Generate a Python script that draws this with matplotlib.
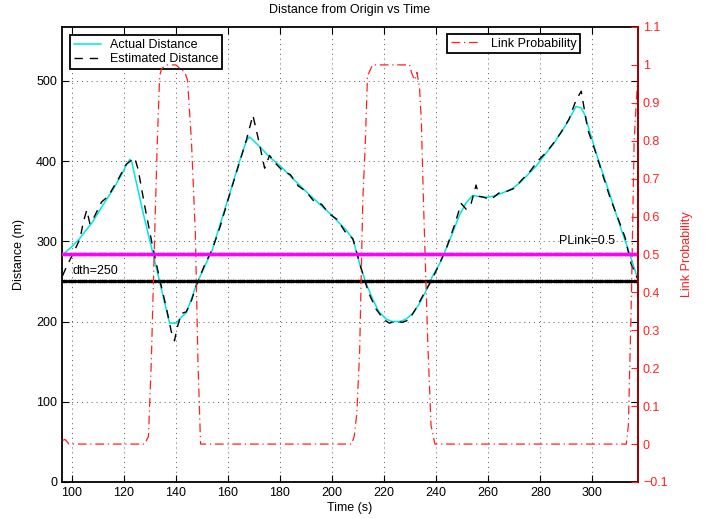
import numpy as np
import matplotlib
matplotlib.use("Agg")
import matplotlib.pyplot as plt

plt.rcParams['font.family'] = ['Liberation Sans', 'DejaVu Sans']
plt.rcParams['font.size'] = 9

# ---- data ----
t_act = [96.5, 100, 103, 108, 112, 116, 119, 121, 122.3, 123, 127.4, 131.2, 135, 137.6,
         140.2, 142, 144, 146, 148, 151, 154, 157, 160, 163, 165, 167, 168.1, 169, 172.2,
         176, 180, 185, 190, 195, 200, 203, 205.4, 208, 210.6, 213, 215.6, 218, 220.8,
         223, 226, 228.5, 231, 233.5, 236.2, 238.5, 241.3, 245, 249, 251.5, 254, 256,
         257.9, 260, 263, 266, 269.4, 272.5, 275.8, 278.5, 281, 283.5, 286, 290, 293.7,
         295.7, 297, 301.4, 306.5, 310, 314.2, 317.4]
d_act = [283, 293, 303, 324, 345, 365, 382, 395, 402, 400, 336, 285, 233, 198,
         198, 205, 211, 228, 247, 268, 289, 321, 352, 384, 405, 424, 430, 428, 418,
         405, 394, 378, 362, 347, 332, 322, 314, 303, 272, 248, 228, 212, 203,
         200, 200, 203, 210, 222, 239, 256, 272, 300, 333, 348, 357, 356,
         355, 355, 357, 361, 366, 374, 385, 394, 405, 415, 426, 446, 468,
         466, 458, 410, 360, 325, 285, 253]

t_est = [96.5, 98, 100.6, 103.2, 104.5, 105.8, 107, 108.3, 111.5, 114, 118, 121, 124.2,
         125.5, 128, 131, 134, 136.5, 138.3, 139.5, 140.5, 142.1, 144, 146, 148, 151, 154,
         157, 160, 163, 165, 167, 169.6, 172, 174.1, 176, 178, 181, 184, 187, 190, 193,
         196, 199, 202, 205, 208, 211, 214, 217, 220, 222, 224, 227, 229.5, 232, 235,
         238, 241, 244, 247, 249.6, 251.5, 253.4, 255.3, 256.5, 258, 261, 264, 267, 270,
         273, 276, 279, 282, 285, 288, 291, 293.7, 295.7, 298.2, 301, 304, 307, 310,
         312.5, 314.8, 317.4]
d_est = [257, 268, 285, 303, 324, 339, 322, 328, 349, 356, 378, 396, 404,
         390, 345, 295, 250, 215, 187, 176, 192, 210, 212, 226, 246, 270, 290,
         318, 351, 383, 404, 425, 457, 423, 391, 407, 398, 388, 383, 369, 362, 350,
         346, 334, 327, 312, 303, 268, 236, 215, 202, 198, 200, 199, 202, 215, 233,
         250, 270, 292, 320, 347, 340, 347, 370, 356, 355, 352, 360, 362, 366,
         377, 387, 400, 410, 422, 436, 452, 476, 487, 439, 413, 382, 352, 327,
         305, 272, 253]

t_p = [96.5, 97.5, 99, 110, 120, 128, 129.5, 130.6, 131.9, 132.9, 133.8, 134.5, 136.5,
       140, 143.5, 144.5, 146, 147.5, 148.5, 149.5, 160, 180, 200, 207.5, 208.5, 209.5,
       210.6, 211.8, 212.8, 213.6, 215.5, 220, 225, 229.8, 230.5, 231.7, 232.6, 233.6,
       234.3, 235.1, 236.8, 238, 239.5, 260, 280, 300, 313, 313.8, 315, 316, 317.4]
p_link = [0.01, 0.012, 0, 0, 0, 0, 0.02, 0.219, 0.557, 0.8, 0.97, 0.99, 1.0,
          1.0, 0.98, 0.96, 0.8, 0.557, 0.219, 0.0, 0, 0, 0, 0, 0.02, 0.08,
          0.245, 0.64, 0.8, 0.97, 1.0, 1.0, 1.0, 1.0, 0.98, 0.96, 0.98, 0.94,
          0.85, 0.64, 0.26, 0.05, 0, 0, 0, 0, 0, 0.05, 0.4, 0.8, 0.97]

dth = 250
plink_th = 0.5
x_ticks = list(range(100, 301, 20))
yl_ticks = list(range(0, 501, 100))
yr_ticks = [round(-0.1 + 0.1 * i, 1) for i in range(13)]

# ---- figure ----
fig = plt.figure(figsize=(7.12, 5.18), dpi=100)
ax = fig.add_axes([0.0871, 0.0695, 0.8090, 0.8784])
ax2 = ax.twinx()

xmin, xmax = 96.3, 317.5
ax.set_xlim(xmin, xmax)
ax.set_ylim(0, 567)
ax2.set_ylim(-0.1, 1.1)

# grid
ax.set_xticks(x_ticks)
ax.set_yticks(yl_ticks)
ax.grid(True, color='0.35', linestyle=(0, (1, 4)), linewidth=0.7)

l1, = ax.plot(t_act, d_act, color='#00e5e5', lw=1.1, label='Actual Distance')
l2, = ax.plot(t_est, d_est, color='black', lw=1.0, ls=(0, (6, 5)), label='Estimated Distance')

tl = np.linspace(xmin, xmax, 260)
ax.plot(tl, np.full_like(tl, dth), color='black', lw=1.0, marker='.', ms=3.2, zorder=3)
ax.text(100.2, 259, 'dth=250', fontsize=9)

l3, = ax2.plot(t_p, p_link, color='#ff2020', lw=0.9, ls=(0, (7, 3, 1, 3)), label='Link Probability')
ax2.plot(tl, np.full_like(tl, plink_th), color='#ff00ff', lw=1.2, marker='.', ms=3.6)
ax2.text(287.3, 0.528, 'PLink=0.5', fontsize=9)

ax2.set_yticks(yr_ticks)
ax2.set_yticklabels([f'{v:g}'.replace('-', '\u2212') for v in yr_ticks])

# ticks / spines
ax.tick_params(axis='both', direction='in', length=5, width=0.8, top=True, right=True,
               labelsize=9, colors='black')
ax2.tick_params(axis='y', direction='in', length=5, width=0.8, colors='#ff2020',
                labelsize=9, left=False, right=True)
for s in ax.spines.values():
    s.set_linewidth(1.3)
    s.set_color('black')
for s in ax2.spines.values():
    s.set_visible(False)
ax2.spines['right'].set_visible(True)
ax2.spines['right'].set_color('#b00000')
ax2.spines['right'].set_linewidth(1.3)

ax.set_xlabel('Time (s)', fontsize=9, labelpad=2)
ax.set_ylabel('Distance (m)', fontsize=9, labelpad=8)
ax2.set_ylabel('Link Probability', fontsize=9, color='#ff2020', labelpad=10)
ax.set_title('Distance from Origin vs Time', fontsize=9, pad=10)

leg1 = ax.legend(handles=[l1, l2], loc='upper left', bbox_to_anchor=(0.0139, 0.982),
                 borderaxespad=0, fancybox=False, edgecolor='black', framealpha=1,
                 fontsize=9, handlelength=2.2, handletextpad=0.7, labelspacing=0.2,
                 borderpad=0.3)
leg1.get_frame().set_linewidth(1.3)
leg2 = ax2.legend(handles=[l3], loc='upper left', bbox_to_anchor=(0.668, 0.985),
                  borderaxespad=0, fancybox=False, edgecolor='black', framealpha=1,
                  fontsize=9, handlelength=2.4, handletextpad=0.8, borderpad=0.3)
leg2.get_frame().set_linewidth(1.3)

fig.savefig('out.png', dpi=100)
